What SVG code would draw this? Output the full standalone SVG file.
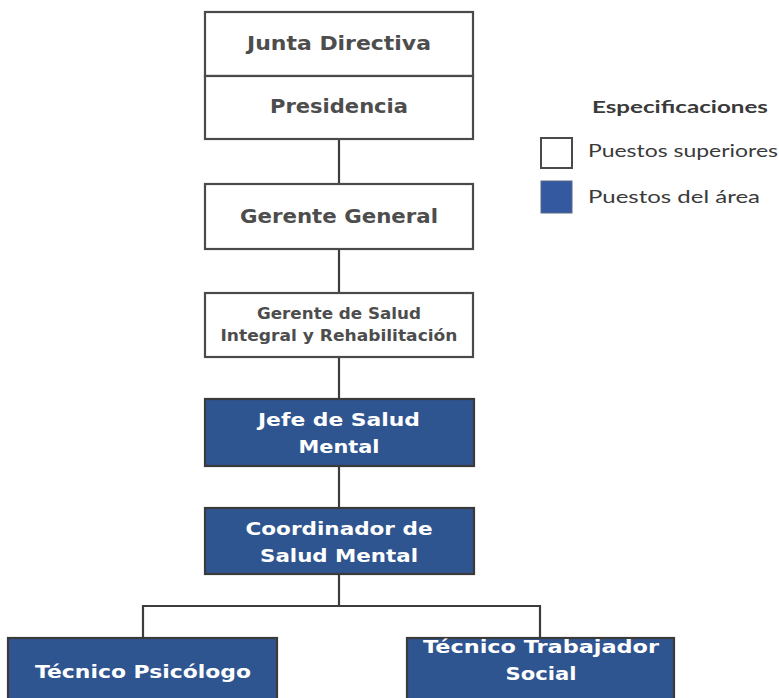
<svg xmlns="http://www.w3.org/2000/svg" width="779" height="698" viewBox="0 0 779 698">
<style>
.box{fill:#ffffff;stroke:#4a4a4a;stroke-width:2.2}
.blue{fill:#2f5590;stroke:#3a3a3a;stroke-width:2.2}
.t{font-family:"DejaVu Sans",Verdana,sans-serif;font-weight:bold;text-anchor:middle;fill:#4d4d4d}
.tw{font-family:"DejaVu Sans",Verdana,sans-serif;font-weight:bold;text-anchor:middle;fill:#ffffff}
.leg{font-family:Lato,"Liberation Sans",sans-serif;fill:#3a3a3a}
.conn{stroke:#3d3d3d;stroke-width:2.2;fill:none}
</style>
<rect width="779" height="698" fill="#ffffff"/>
<g id="connectors">
<line class="conn" x1="339" y1="139" x2="339" y2="184"/>
<line class="conn" x1="339" y1="249" x2="339" y2="293"/>
<line class="conn" x1="339" y1="357" x2="339" y2="399"/>
<line class="conn" x1="339" y1="466" x2="339" y2="508"/>
<line class="conn" x1="339" y1="574" x2="339" y2="606"/>
<polyline class="conn" points="143,638 143,606 540,606 540,638"/>
</g>
<g id="junta">
<rect class="box" x="205" y="12" width="268" height="64"/>
<text class="t" x="339" y="50" font-size="19" textLength="184" lengthAdjust="spacingAndGlyphs">Junta Directiva</text>
</g>
<g id="presidencia">
<rect class="box" x="205" y="76" width="268" height="63"/>
<text class="t" x="339" y="113" font-size="19" textLength="138" lengthAdjust="spacingAndGlyphs">Presidencia</text>
</g>
<g id="gerente-general">
<rect class="box" x="205" y="184" width="268" height="65"/>
<text class="t" x="339" y="223" font-size="19" textLength="198" lengthAdjust="spacingAndGlyphs">Gerente General</text>
</g>
<g id="gerente-salud">
<rect class="box" x="205" y="293" width="268" height="64"/>
<text class="t" x="339" y="319" font-size="15" textLength="164" lengthAdjust="spacingAndGlyphs">Gerente de Salud</text>
<text class="t" x="339" y="341" font-size="15" textLength="237" lengthAdjust="spacingAndGlyphs">Integral y Rehabilitación</text>
</g>
<g id="jefe">
<rect class="blue" x="205" y="399" width="269" height="67"/>
<text class="tw" x="339" y="426" font-size="18" textLength="162" lengthAdjust="spacingAndGlyphs">Jefe de Salud</text>
<text class="tw" x="339" y="453" font-size="18" textLength="81" lengthAdjust="spacingAndGlyphs">Mental</text>
</g>
<g id="coordinador">
<rect class="blue" x="205" y="508" width="269" height="66"/>
<text class="tw" x="339" y="535" font-size="18" textLength="187" lengthAdjust="spacingAndGlyphs">Coordinador de</text>
<text class="tw" x="339" y="562" font-size="18" textLength="158" lengthAdjust="spacingAndGlyphs">Salud Mental</text>
</g>
<g id="psicologo">
<rect class="blue" x="8" y="638" width="269" height="70"/>
<text class="tw" x="143" y="678" font-size="18" textLength="216" lengthAdjust="spacingAndGlyphs">Técnico Psicólogo</text>
</g>
<g id="trabajador">
<rect class="blue" x="407" y="638" width="267" height="70"/>
<text class="tw" x="541" y="653" font-size="18" textLength="236" lengthAdjust="spacingAndGlyphs">Técnico Trabajador</text>
<text class="tw" x="541" y="680" font-size="18" textLength="71" lengthAdjust="spacingAndGlyphs">Social</text>
</g>
<g id="legend">
<text class="leg" x="592" y="113" font-size="17" font-weight="bold" textLength="176" lengthAdjust="spacingAndGlyphs">Especificaciones</text>
<rect x="541" y="138" width="31" height="30" fill="#ffffff" stroke="#4a4a4a" stroke-width="2"/>
<text class="leg" x="588" y="157" font-size="17" textLength="190" lengthAdjust="spacingAndGlyphs">Puestos superiores</text>
<rect x="541" y="181" width="31" height="32" fill="#3459a0" stroke="#5a6a8a" stroke-width="1"/>
<text class="leg" x="588" y="203" font-size="17" textLength="172" lengthAdjust="spacingAndGlyphs">Puestos del área</text>
</g>
</svg>
